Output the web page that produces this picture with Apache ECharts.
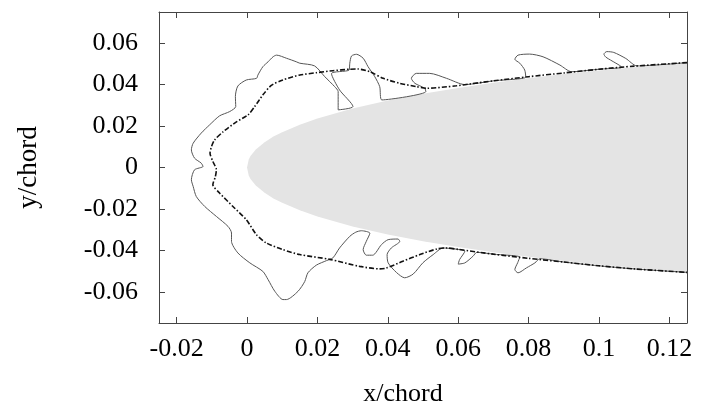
<!DOCTYPE html>
<html><head><meta charset="utf-8">
<script src="https://cdn.jsdelivr.net/npm/echarts@6/dist/echarts.min.js"></script>
<style>html,body{margin:0;padding:0;background:#fff}#c{width:701px;height:408px}</style>
</head><body><div id="c"></div>
<script>
const xTicks = [-0.02, 0, 0.02, 0.04, 0.06, 0.08, 0.1, 0.12];
const yTicks = [-0.06, -0.04, -0.02, 0, 0.02, 0.04, 0.06];
const airfoilX = [0,0.0005,0.001,0.0025,0.005,0.0075,0.01,0.015,0.02,0.03,0.04,0.05,0.06,0.07,0.08,0.09,0.1,0.11,0.12,0.125];
const airfoilHalf = [0,0.0039,0.0056,0.0087,0.0122,0.0149,0.0170,0.0206,0.0236,0.0284,0.0323,0.0356,0.0384,0.0409,0.0431,0.0451,0.0468,0.0484,0.0499,0.0506];
const solidContour = [
[0.125,0.0506],[0.1108,0.0490],[0.1076,0.0526],[0.1042,0.0555],[0.1022,0.0559],[0.1014,0.0547],[0.1019,0.0533],[0.1037,0.0514],[0.1059,0.0492],[0.1065,0.0483],
[0.1,0.0474],[0.0922,0.0462],[0.0889,0.0494],[0.0841,0.0534],[0.0803,0.0547],[0.0770,0.0542],[0.0761,0.0522],[0.0775,0.0503],[0.0789,0.0470],[0.0792,0.0436],
[0.07,0.0418],[0.0619,0.0400],[0.0567,0.0430],[0.0519,0.0454],[0.0481,0.0454],[0.0467,0.0430],[0.0477,0.0406],[0.0505,0.0382],[0.0508,0.0366],
[0.0383,0.0326],[0.0377,0.0390],[0.0363,0.0438],[0.0344,0.0486],[0.0330,0.0527],[0.0311,0.0546],[0.0297,0.0538],[0.0292,0.0503],[0.0290,0.0470],
[0.0240,0.0453],[0.0263,0.0374],[0.0301,0.0294],[0.0259,0.0278],[0.0259,0.0366],[0.0249,0.0390],[0.0221,0.0438],[0.0192,0.0490],[0.0150,0.0503],
[0.0140,0.0510],[0.0112,0.0527],[0.0084,0.0542],[0.0074,0.0534],[0.0060,0.0510],[0.0045,0.0486],[0.0031,0.0446],[0.0027,0.0430],[-0.0002,0.0422],
[-0.0026,0.0393],[-0.0033,0.0342],[-0.0032,0.0294],[-0.0049,0.0270],[-0.0078,0.0249],[-0.0106,0.0206],[-0.0130,0.0166],[-0.0153,0.0117],[-0.0158,0.0085],
[-0.0149,0.0045],[-0.0130,0.0021],[-0.0125,0.0005],[-0.0149,-0.0011],[-0.0158,-0.0059],[-0.0153,-0.0091],[-0.0144,-0.0140],[-0.0120,-0.0188],
[-0.0087,-0.0236],[-0.0054,-0.0284],[-0.0044,-0.0316],[-0.0044,-0.0356],[-0.0026,-0.0412],[0.0008,-0.0460],[0.0045,-0.0501],[0.0060,-0.0541],
[0.0079,-0.0597],[0.0102,-0.0637],[0.0112,-0.0637],[0.0145,-0.0597],[0.0164,-0.0550],[0.0173,-0.0508],[0.0197,-0.0471],[0.0226,-0.0449],[0.0244,-0.0436],
[0.0263,-0.0388],[0.0292,-0.0332],[0.0309,-0.0312],[0.0325,-0.0305],[0.0349,-0.0317],[0.0339,-0.0356],[0.0330,-0.0396],[0.0339,-0.0423],[0.0357,-0.0423],
[0.0382,-0.0372],[0.0401,-0.0348],[0.0429,-0.0345],[0.0434,-0.0356],[0.0410,-0.0388],[0.0398,-0.0420],[0.0401,-0.0460],[0.0425,-0.0507],[0.0448,-0.0532],
[0.0472,-0.0514],[0.0500,-0.0459],[0.0529,-0.0420],[0.0557,-0.0388],[0.06,-0.0395],[0.0619,-0.0403],[0.0604,-0.0444],[0.0600,-0.0466],[0.0619,-0.0460],
[0.0642,-0.0428],[0.0653,-0.0409],[0.07,-0.0418],[0.0775,-0.0432],[0.0769,-0.0459],[0.0761,-0.0492],[0.0770,-0.0508],[0.0794,-0.0484],[0.0818,-0.0460],
[0.0832,-0.0440],[0.09,-0.0456],[0.1,-0.0474],[0.11,-0.0489],[0.125,-0.0506]
];
const dashContour = [
[0.125,0.0506],[0.11,0.0489],[0.1,0.0474],[0.09,0.0456],[0.08,0.0438],[0.07,0.0418],[0.0633,0.0403],[0.0595,0.0394],[0.0510,0.0382],
[0.0481,0.0390],[0.0434,0.0406],[0.0387,0.0430],[0.0349,0.0462],[0.0315,0.0475],[0.0292,0.0474],[0.0244,0.0467],[0.0197,0.0457],[0.0150,0.0446],
[0.0102,0.0422],[0.0069,0.0396],[0.0045,0.0350],[0.0022,0.0294],[0.0003,0.0254],[-0.0030,0.0220],[-0.0068,0.0172],[-0.0092,0.0133],[-0.0101,0.0100],
[-0.0105,0.0069],[-0.0097,0.0029],[-0.0087,-0.0011],[-0.0090,-0.0045],[-0.0097,-0.0083],[-0.0078,-0.0123],[-0.0040,-0.0188],[-0.0002,-0.0252],
[0.0027,-0.0324],[0.0055,-0.0364],[0.0102,-0.0396],[0.0150,-0.0420],[0.0235,-0.0443],[0.0320,-0.0477],[0.0377,-0.0489],[0.0396,-0.0485],
[0.0443,-0.0452],[0.0491,-0.0420],[0.0539,-0.0393],[0.0567,-0.0388],[0.06,-0.0395],[0.07,-0.0418],[0.08,-0.0438],[0.09,-0.0456],[0.1,-0.0474],
[0.11,-0.0489],[0.125,-0.0506]
];

const FONT = '"Liberation Serif", "Times New Roman", serif';
const axisCol = '#444';
const chart = echarts.init(document.getElementById('c'), null, {renderer: 'canvas'});
const fmt = v => String(+v.toFixed(4));
chart.setOption({
  animation: false,
  grid: {left: 159, right: 14, top: 12, bottom: 85, containLabel: false, outerBoundsMode: 'none'},
  xAxis: [{
    type: 'value', min: -0.025, max: 0.125, position: 'bottom',
    splitLine: {show: false},
    axisLine: {show: true, onZero: false, lineStyle: {color: axisCol, width: 1}},
    axisTick: {show: true, inside: true, length: 6, customValues: xTicks, lineStyle: {color: axisCol}},
    axisLabel: {customValues: xTicks, formatter: fmt, margin: 13, color: '#000', fontFamily: FONT, fontSize: 26},
    name: 'x/chord', nameLocation: 'middle', nameGap: 58,
    nameTextStyle: {fontFamily: FONT, fontSize: 26, color: '#000', padding: [0, 40, 0, 0]}
  }, {
    type: 'value', min: -0.025, max: 0.125, position: 'top',
    splitLine: {show: false},
    axisLine: {show: true, onZero: false, lineStyle: {color: axisCol, width: 1}},
    axisTick: {show: true, inside: true, length: 6, customValues: xTicks, lineStyle: {color: axisCol}},
    axisLabel: {show: false}
  }],
  yAxis: [{
    type: 'value', min: -0.075, max: 0.075, position: 'left',
    splitLine: {show: false},
    axisLine: {show: true, onZero: false, lineStyle: {color: axisCol, width: 1}},
    axisTick: {show: true, inside: true, length: 6, customValues: yTicks, lineStyle: {color: axisCol}},
    axisLabel: {customValues: yTicks, formatter: fmt, margin: 21, color: '#000', fontFamily: FONT, fontSize: 26},
    name: 'y/chord', nameLocation: 'middle', nameGap: 117, nameRotate: 90,
    nameTextStyle: {fontFamily: FONT, fontSize: 27, color: '#000'}
  }, {
    type: 'value', min: -0.075, max: 0.075, position: 'right', z: 5,
    splitLine: {show: false},
    axisLine: {show: true, onZero: false, lineStyle: {color: axisCol, width: 1}},
    axisTick: {show: true, inside: true, length: 6, customValues: [yTicks[0], yTicks[yTicks.length - 1]], lineStyle: {color: axisCol}},
    axisLabel: {show: false}
  }],
  series: [{
    type: 'custom', xAxisIndex: 0, yAxisIndex: 0, z: 1,
    data: [[0, 0]],
    renderItem: function (params, api) {
      const pts = [];
      for (let i = 0; i < airfoilX.length; i++) pts.push(api.coord([airfoilX[i], airfoilHalf[i]]));
      for (let i = airfoilX.length - 1; i >= 0; i--) pts.push(api.coord([airfoilX[i], -airfoilHalf[i]]));
      return {type: 'polygon', shape: {points: pts, smooth: 0}, style: {fill: '#e4e4e4', stroke: null}};
    }
  }, {
    type: 'line', data: solidContour, showSymbol: false, smooth: 0.25, z: 3,
    lineStyle: {color: '#555', width: 1}
  }, {
    type: 'line', data: dashContour, showSymbol: false, smooth: 0.25, z: 4,
    lineStyle: {color: '#111', width: 1.6, type: [5, 2, 1.5, 2]}
  }]
});
</script></body></html>
